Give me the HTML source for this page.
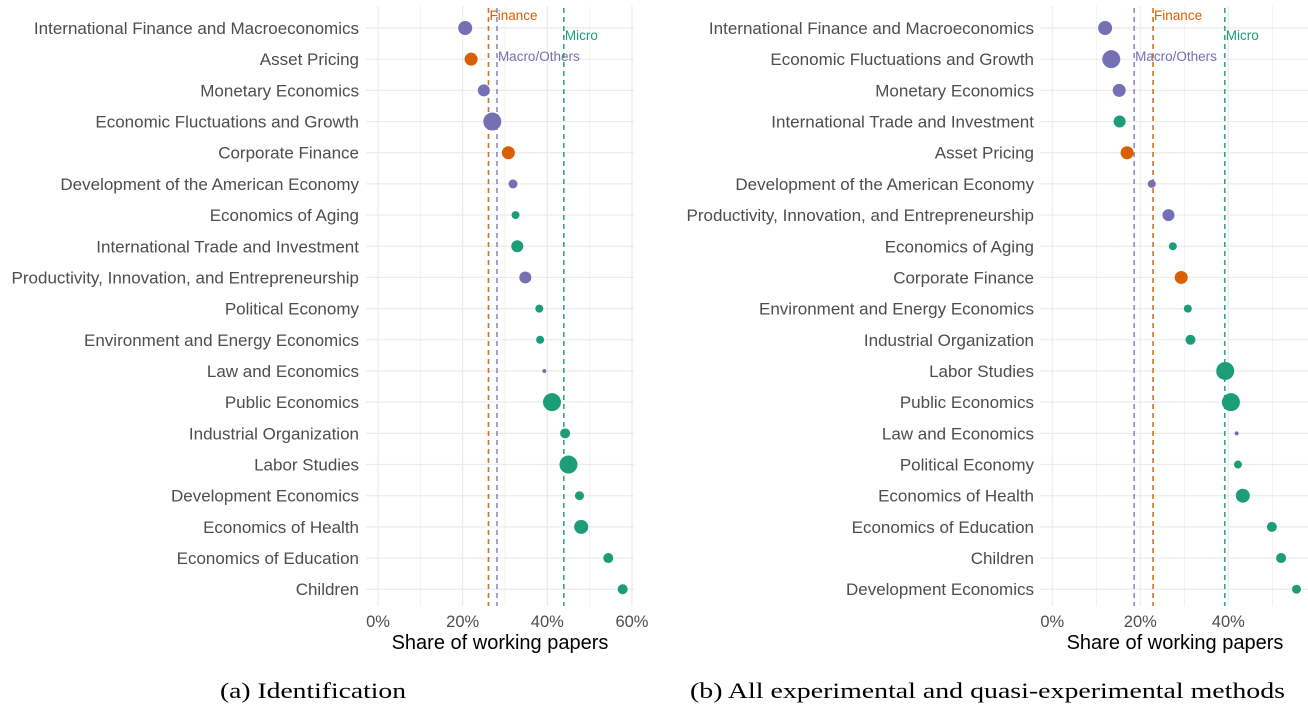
<!DOCTYPE html>
<html><head><meta charset="utf-8"><style>
html,body{margin:0;padding:0;background:#fff;width:1308px;height:714px;overflow:hidden}
svg{display:block}
.sans{font-family:"Liberation Sans",sans-serif}
.serif{font-family:"Liberation Serif",serif}
</style></head><body>
<svg id="chart" width="1308" height="714" viewBox="0 0 1308 714"></svg>
<script>
const catsA=["International Finance and Macroeconomics","Asset Pricing","Monetary Economics","Economic Fluctuations and Growth","Corporate Finance","Development of the American Economy","Economics of Aging","International Trade and Investment","Productivity, Innovation, and Entrepreneurship","Political Economy","Environment and Energy Economics","Law and Economics","Public Economics","Industrial Organization","Labor Studies","Development Economics","Economics of Health","Economics of Education","Children"];
const valsA=[20.6,22.0,25.0,27.0,30.8,31.9,32.5,32.9,34.8,38.1,38.3,39.3,41.1,44.2,45.0,47.6,48.0,54.4,57.8];
const sizeA=[7,6.5,6,9,6.5,4.5,4,6,6,4,4,2,9,5,9,4.5,7,5,5];
const groupA=["m","f","m","m","f","m","g","g","m","g","g","m","g","g","g","g","g","g","g"];
const catsB=["International Finance and Macroeconomics","Economic Fluctuations and Growth","Monetary Economics","International Trade and Investment","Asset Pricing","Development of the American Economy","Productivity, Innovation, and Entrepreneurship","Economics of Aging","Corporate Finance","Environment and Energy Economics","Industrial Organization","Labor Studies","Public Economics","Law and Economics","Political Economy","Economics of Health","Economics of Education","Children","Development Economics"];
const valsB=[12.0,13.4,15.2,15.3,17.0,22.6,26.4,27.4,29.3,30.8,31.4,39.3,40.6,41.9,42.2,43.3,49.9,52.0,55.5];
const sizeB=[7,9,6.5,6,6.5,4,6,4,6.5,4,5,9,9,2,4,7,5,5,4.5];
const groupB=["m","m","m","g","f","m","m","g","f","g","g","g","g","m","g","g","g","g","g"];
const refA=[26.1,28.1,43.9];
const refB=[22.9,18.6,39.2];
const ticksA=[0,20,40,60];
const ticksB=[0,20,40];
const NS="http://www.w3.org/2000/svg";
const svg=document.getElementById('chart');
const col={m:"#7570b3",f:"#d95f02",g:"#1b9e77"};
function mk(t,a,p){const e=document.createElementNS(NS,t);for(const k in a)e.setAttribute(k,a[k]);(p||svg).appendChild(e);return e;}
function panel(o){
  const g=mk('g',{class:'sans'});
  
  
  const x=v=>o.x0+(v/10)*o.pp10;
  const y=i=>28+i*31.18;
  for(let v=0;x(v)<=o.right+1;v+=10){
    const l=mk('line',{x1:x(v),x2:x(v),y1:6,y2:606,stroke:"#ebebeb","stroke-width":v%20==0?1.2:0.6},g);
    
    
  }
  o.cats.forEach((c,i)=>{
    const l=mk('line',{x1:o.left,x2:o.right,y1:y(i),y2:y(i),stroke:"#ebebeb","stroke-width":1.2},g);
    
    
    const t=mk('text',{x:o.labelX,y:y(i)+6,"text-anchor":"end","font-size":17,fill:"#4d4d4d"},g);
    t.textContent=c;
    
    
  });
  const rc=[col.f,col.m,col.g];
  const rn=["Finance","Macro/Others","Micro"];
  const ry=[20,61,40];
  o.refs.forEach((v,k)=>{
    const l=mk('line',{x1:x(v),x2:x(v),y1:8,y2:606,stroke:rc[k],"stroke-width":1.6,"stroke-dasharray":"5,4",opacity:k==1?0.8:0.9},g);
    
    
    const t=mk('text',{x:x(v)+1,y:ry[k],"font-size":13.5,fill:rc[k]},g);
    t.textContent=rn[k];
    
    
  });
  o.vals.forEach((v,i)=>{
    const c=mk('circle',{cx:x(v),cy:y(i),r:o.size[i],fill:col[o.grp[i]]},g);
    
    
  });
  o.ticks.forEach(v=>{
    const t=mk('text',{x:x(v),y:627,"text-anchor":"middle","font-size":16.5,fill:"#4d4d4d"},g);
    t.textContent=v+"%";
    
    
  });
  const at=mk('text',{x:o.titleX,y:649,"text-anchor":"middle","font-size":20,fill:"#000"},g);
  at.textContent="Share of working papers";
  
  
  const cp=mk('text',{x:o.capX,y:698,"font-size":22,fill:"#000",class:"serif",textLength:o.capW,lengthAdjust:"spacingAndGlyphs"},g);
  cp.textContent=o.caption;
  
  
}
panel({name:'panel-identification',cats:catsA,vals:valsA,size:sizeA,grp:groupA,refs:refA,ticks:ticksA,x0:378,pp10:42.33,left:366,right:634,labelX:359,titleX:500,capX:220,capW:186,caption:"(a) Identification"});
panel({name:'panel-all-methods',cats:catsB,vals:valsB,size:sizeB,grp:groupB,refs:refB,ticks:ticksB,x0:1052.3,pp10:44,left:1040,right:1308,labelX:1034,titleX:1175,capX:690,capW:595,caption:"(b) All experimental and quasi-experimental methods"});
</script>
</body></html>
